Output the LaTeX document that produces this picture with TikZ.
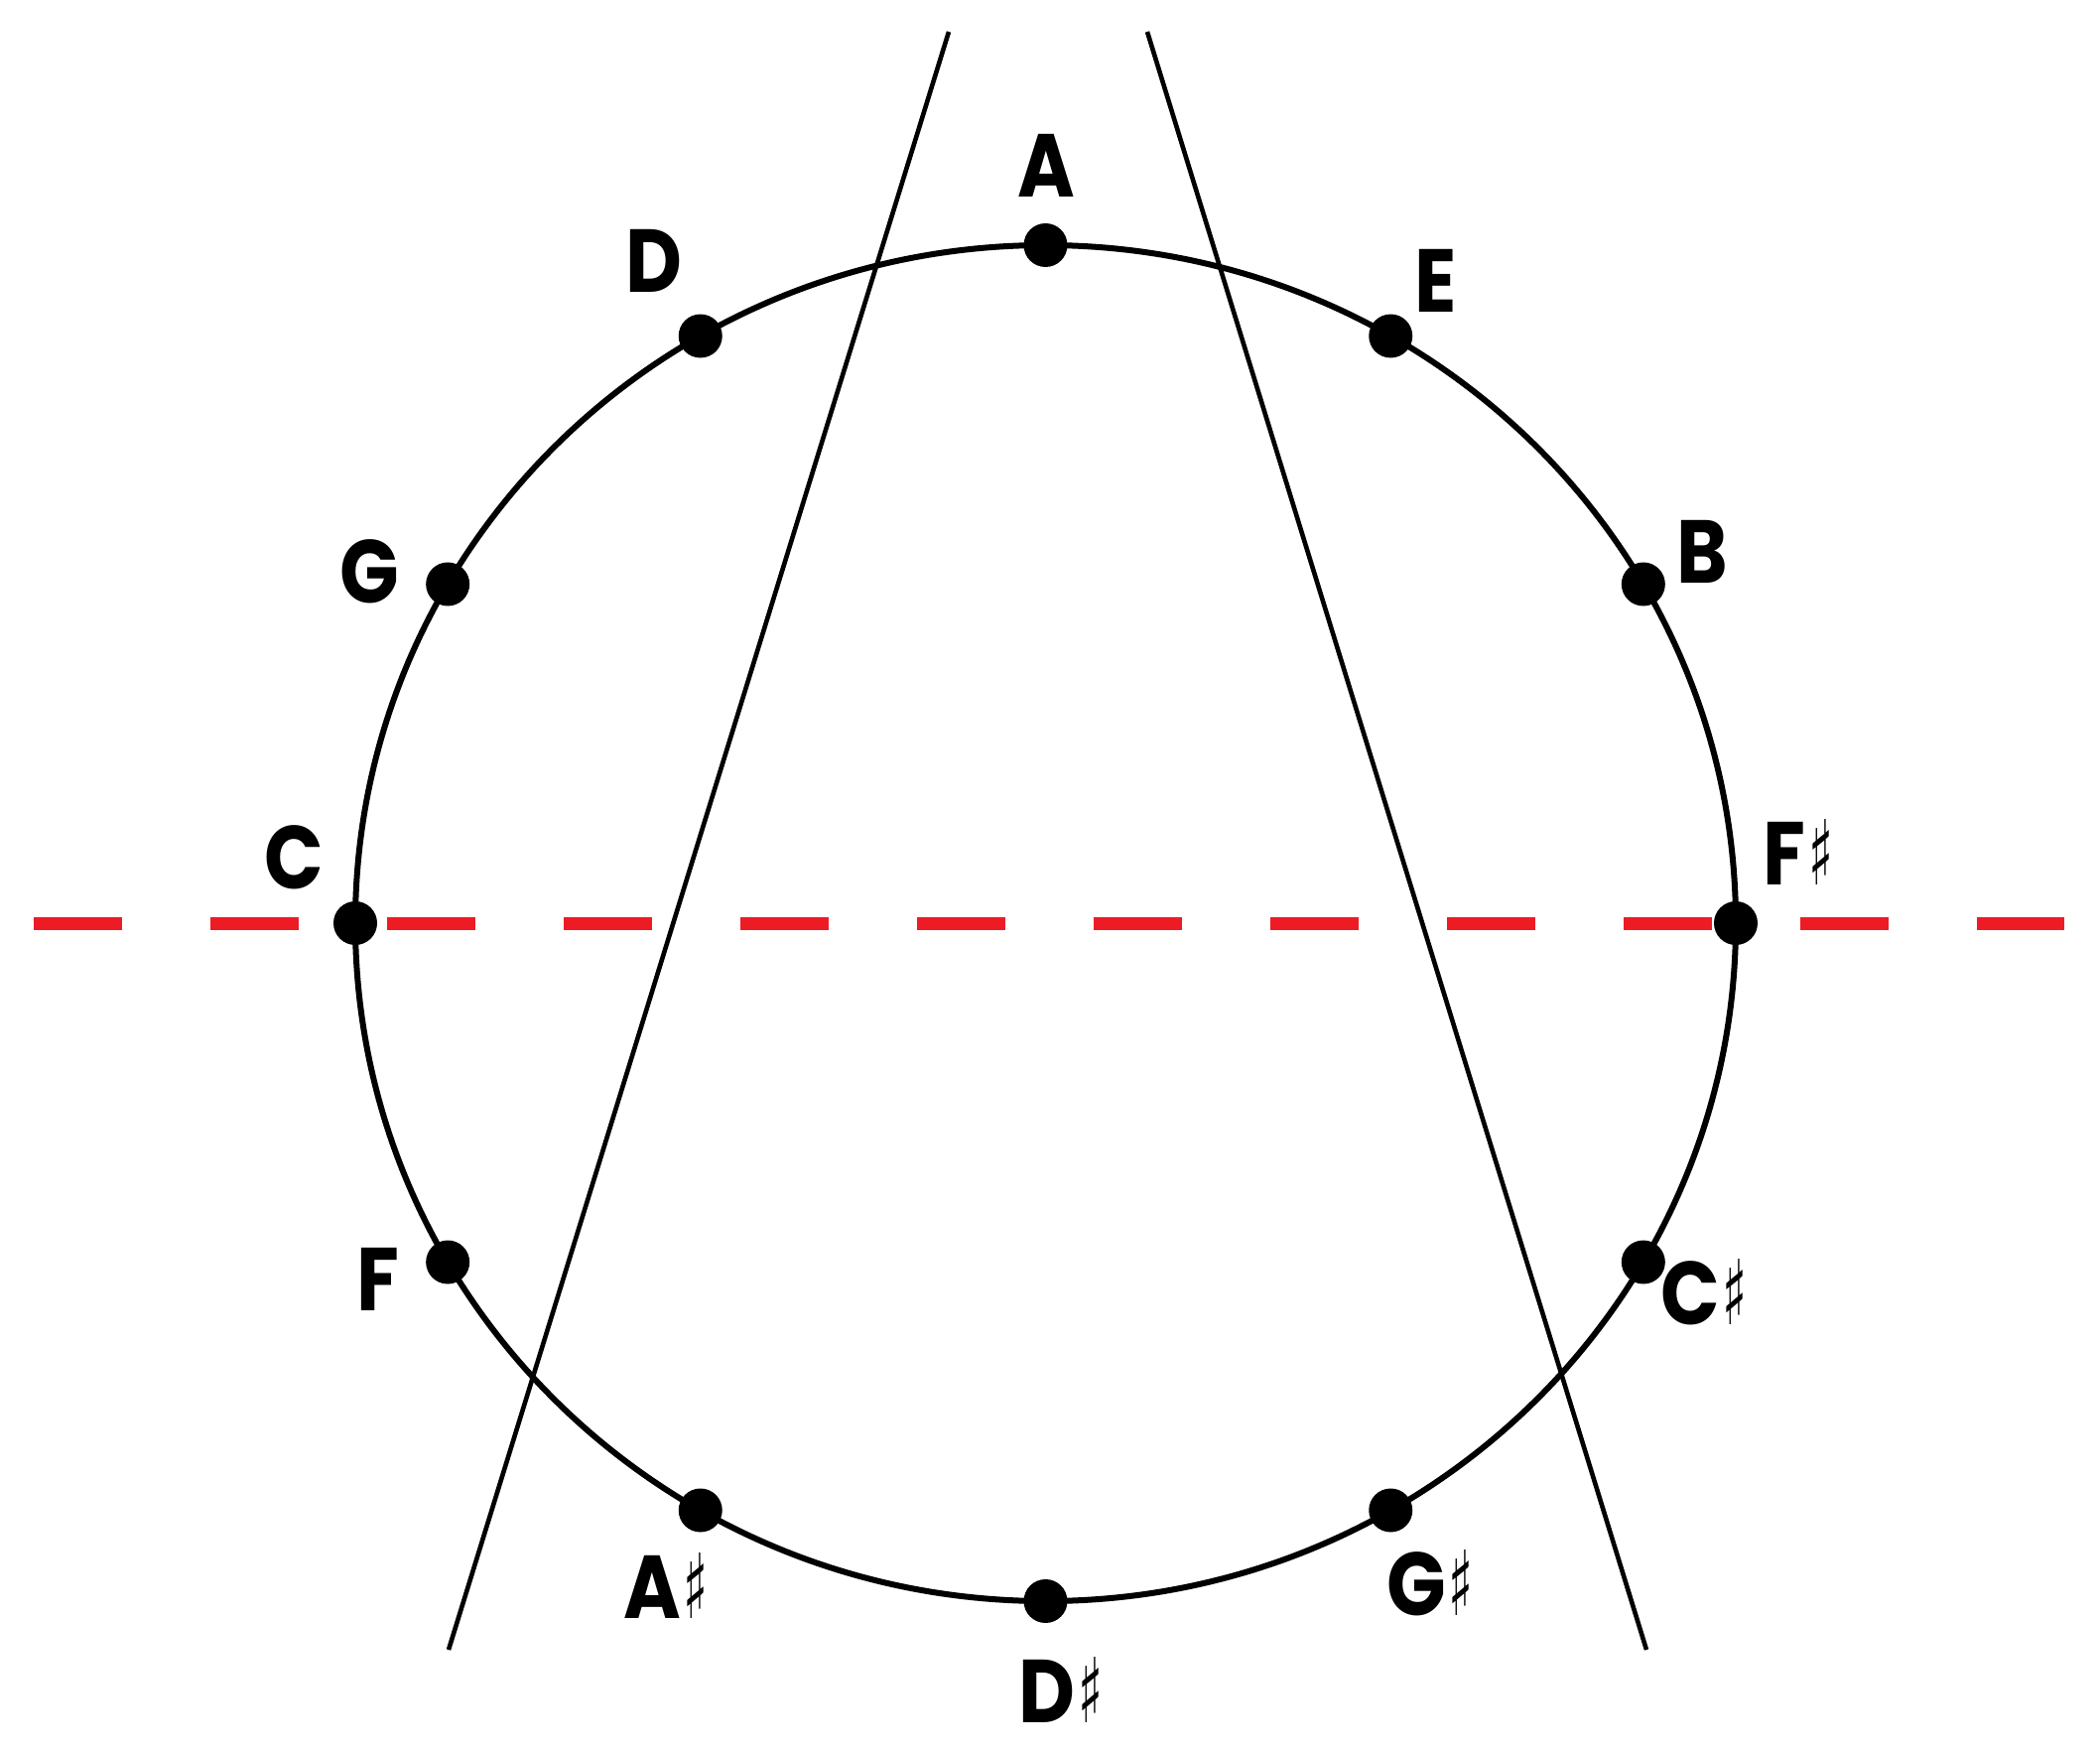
\documentclass[tikz,border=0pt]{standalone}
\usetikzlibrary{calc}
\usepackage{fontspec}
\setmainfont{Poppins}[UprightFont=* Bold,FakeStretch=0.87]
\newfontfamily\symfont{DejaVu Sans}
\definecolor{dashred}{RGB}{237,28,36}
\newcommand{\shp}{\hspace{1.5pt}\raisebox{\depth}{\resizebox*{12.5pt}{33pt}{\symfont ♯}}}
\begin{document}
\begin{tikzpicture}[x=0.5pt,y=-0.5pt,
  dot/.style={circle,fill=black,inner sep=0pt,minimum size=22pt},
  lbl/.style={inner sep=0pt,font=\fontsize{45}{45}\selectfont},
  ring/.style={line width=3pt},
  chord/.style={line width=2.3pt},
  axis/.style={draw=dashred,line width=6.5pt,dash pattern=on 44.5pt off 44.5pt}]
\useasboundingbox[fill=white] (0,0) rectangle (2116,1765);
% red dashed axis
\coordinate (axL) at (34,930);
\coordinate (axR) at (2080,930);
\draw[axis] (axL) -- (axR);
% circle
\coordinate (ctr) at (1053.5,930);
\draw[ring] (ctr) ellipse [x radius=695.5, y radius=683];
% chords
\coordinate (l1) at (956,32);
\coordinate (l2) at (452,1662);
\coordinate (r1) at (1156,32);
\coordinate (r2) at (1659,1662);
\draw[chord] (l1) -- (l2);
\draw[chord] (r1) -- (r2);
% dots
\foreach \n/\a in {A/90,D/120,G/150,C/180,F/210,As/240,Ds/270,Gs/300,Cs/330,Fs/0,B/30,E/60}
  \node[dot] (\n) at ($(ctr)+({695.5*cos(\a)},{-683*sin(\a)})$) {};
% labels
\node[lbl] (lA) at (1054,167) {A};
\node[lbl] (lD) at (659,263) {D};
\node[lbl] (lE) at (1447,283) {E};
\node[lbl] (lG) at (372,576) {G};
\node[lbl] (lB) at (1715,556) {B};
\node[lbl] (lC) at (296,864) {C};
\node[lbl] (lFs) at (1812,858) {F\shp};
\node[lbl] (lF) at (381,1289) {F};
\node[lbl] (lCs) at (1717,1302) {C\shp};
\node[lbl] (lAs) at (671,1597) {A\shp};
\node[lbl] (lGs) at (1441,1595) {G\shp};
\node[lbl] (lDs) at (1069,1702) {D\shp};
\end{tikzpicture}
\end{document}
